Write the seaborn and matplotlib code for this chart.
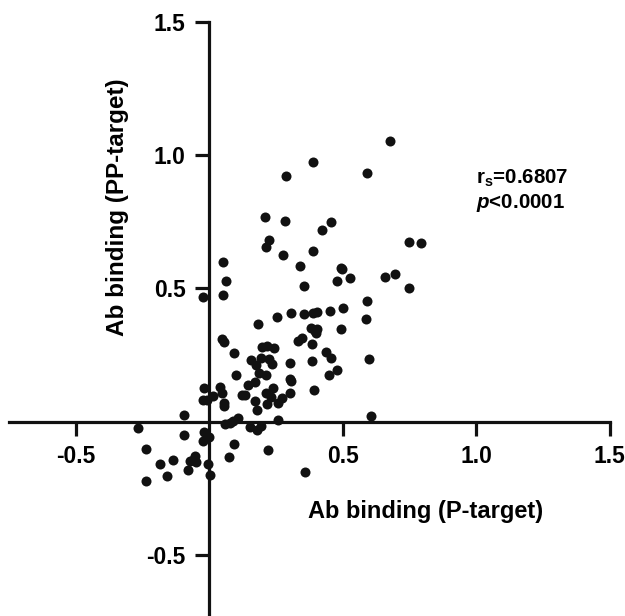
import matplotlib
matplotlib.use("Agg")
import matplotlib.pyplot as plt
import seaborn as sns

# Ab binding values
p_target = [0.676, 0.388, 0.592, 0.288, 0.207, 0.283, 0.456, 0.421, 0.225, 0.211,
            0.748, 0.792, 0.388, 0.277, 0.052, 0.339, 0.492, 0.499, 0.657, 0.696,
            0.526, 0.061, 0.478, 0.355, 0.748, 0.051, -0.022, 0.592, 0.502, 0.306,
            0.355, 0.390, 0.403, 0.451, 0.255, 0.589, 0.181, 0.382, 0.405, 0.399,
            0.396, 0.492, 0.046, 0.054, 0.346, 0.333, 0.385, 0.244, 0.199, 0.216,
            0.094, 0.439, 0.456, 0.597, 0.157, 0.192, 0.222, 0.175, 0.235, 0.303,
            0.384, 0.478, 0.186, 0.211, 0.100, 0.448, 0.301, 0.306, 0.171, 0.145,
            0.039, -0.021, 0.237, 0.393, 0.303, 0.213, 0.124, 0.135, 0.049, 0.015,
            0.231, 0.271, -0.025, -0.007, 0.172, 0.054, 0.054, 0.256, 0.217, 0.177,
            -0.093, 0.607, 0.106, 0.088, 0.058, 0.079, 0.258, 0.154, 0.192, 0.177,
            -0.268, -0.021, -0.001, -0.094, -0.022, 0.094, 0.220, -0.238, 0.072, -0.054,
            -0.061, -0.073, -0.048, -0.135, -0.186, -0.081, -0.157, -0.004, 0.001, -0.237,
            0.357]
pp_target = [1.052, 0.975, 0.933, 0.923, 0.769, 0.751, 0.749, 0.720, 0.681, 0.656,
             0.674, 0.671, 0.639, 0.626, 0.599, 0.585, 0.576, 0.573, 0.543, 0.553,
             0.540, 0.527, 0.528, 0.509, 0.500, 0.475, 0.466, 0.454, 0.427, 0.409,
             0.405, 0.408, 0.411, 0.415, 0.392, 0.387, 0.366, 0.350, 0.346, 0.334,
             0.341, 0.346, 0.310, 0.300, 0.315, 0.304, 0.291, 0.277, 0.279, 0.285,
             0.257, 0.261, 0.240, 0.234, 0.231, 0.240, 0.234, 0.214, 0.217, 0.220,
             0.228, 0.193, 0.184, 0.175, 0.174, 0.175, 0.160, 0.151, 0.150, 0.137,
             0.132, 0.125, 0.125, 0.119, 0.108, 0.108, 0.101, 0.102, 0.107, 0.095,
             0.092, 0.088, 0.083, 0.083, 0.077, 0.070, 0.058, 0.071, 0.067, 0.045,
             0.024, 0.021, 0.015, 0.003, -0.009, -0.004, 0.006, -0.021, -0.015, -0.031,
             -0.025, -0.037, -0.059, -0.050, -0.074, -0.083, -0.105, -0.101, -0.131, -0.128,
             -0.144, -0.148, -0.151, -0.142, -0.160, -0.180, -0.202, -0.160, -0.200, -0.223,
             -0.190]

x_ticks = [-0.5, 0.5, 1.0, 1.5]
x_tick_labels = ['-0.5', '0.5', '1.0', '1.5']
y_ticks = [-0.5, 0.5, 1.0, 1.5]
y_tick_labels = ['-0.5', '0.5', '1.0', '1.5']

sns.set_theme(style="white")
plt.rcParams['font.family'] = ['Liberation Sans', 'DejaVu Sans']
plt.rcParams['text.color'] = 'black'
plt.rcParams['axes.labelcolor'] = 'black'
plt.rcParams['mathtext.fontset'] = 'custom'
plt.rcParams['mathtext.rm'] = 'Liberation Sans:bold'
plt.rcParams['mathtext.bf'] = 'Liberation Sans:bold'
plt.rcParams['mathtext.it'] = 'Liberation Sans:bold:italic'

fig = plt.figure(figsize=(6.25, 6.16), dpi=100)
ax = fig.add_axes([0.0147, -0.0093, 0.9605, 0.974])

sns.scatterplot(x=p_target, y=pp_target, color='#111111', s=52, linewidth=0, ax=ax)

ax.set_xlim(-0.75, 1.5)
ax.set_ylim(-0.75, 1.5)

# axes crossing at the origin
for side in ['top', 'right']:
    ax.spines[side].set_visible(False)
for side in ['left', 'bottom']:
    ax.spines[side].set_position(('data', 0))
    ax.spines[side].set_linewidth(2.3)
    ax.spines[side].set_color('#111111')

ax.set_xticks(x_ticks, x_tick_labels, fontweight='bold')
ax.set_yticks(y_ticks, y_tick_labels, fontweight='bold')
ax.tick_params(direction='out', length=10, width=2.3, pad=7, labelsize=16.5,
               color='#111111', labelcolor='black', left=True, bottom=True)

ax.set_xlabel('Ab binding (P-target)', fontsize=17, fontweight='bold', va='center')
ax.xaxis.set_label_coords(0.694, 0.183)
ax.set_ylabel('Ab binding (PP-target)', fontsize=17.5, fontweight='bold', va='center')
ax.yaxis.set_label_coords(0.18, 0.691)

ax.text(1.0, 0.891, r'r$_\mathrm{s}$=0.6807', fontsize=14.8, fontweight='bold',
        va='baseline', ha='left')
ax.text(1.0, 0.802, r'$\mathit{p}$<0.0001', fontsize=14.8, fontweight='bold',
        va='baseline', ha='left')

fig.savefig('out.png', dpi=100)
